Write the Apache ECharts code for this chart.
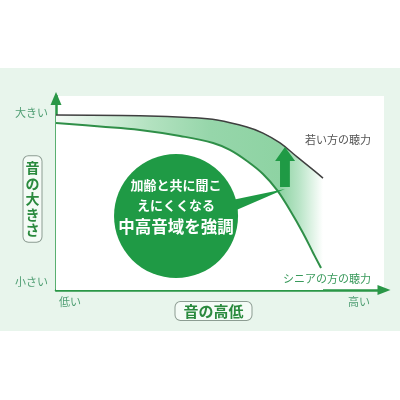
<!DOCTYPE html>
<html><head><meta charset="utf-8">
<script src="https://cdn.jsdelivr.net/npm/echarts@6/dist/echarts.min.js"></script>
<style>html,body{margin:0;padding:0;background:#fff}#c{width:400px;height:400px}</style>
</head><body><div id="c"></div>
<script>
// ---- data ----
const xYoung = [0, 25.6, 41.8, 49.1, 58.2, 63.1, 68.3, 73.5, 78.4, 81.4];
const young  = [90.2, 89.8, 88.8, 87.6, 84.0, 80.9, 75.8, 68.6, 61.9, 57.7];
const xSenior = [0, 13.4, 25.6, 37.8, 47.9, 53.0, 58.2, 63.1, 67.4, 71.3, 75.3, 78.4, 80.8];
const senior  = [86.1, 84.3, 82.5, 79.4, 75.8, 72.2, 66.5, 59.8, 51.5, 41.2, 29.4, 19.1, 11.3];
const seriesNames = ['若い方の聴力', 'シニアの方の聴力'];
const yTickValues = [4.1, 91.2];
const yTickLabels = ['小さい', '大きい'];
const xTickValues = [4.3, 92.4];
const xTickLabels = ['低い', '高い'];
const yAxisTitle = '音の大きさ';
const xAxisTitle = '音の高低';
const calloutLines = ['加齢と共に聞こ', 'えにくくなる', '中高音域を強調'];
const calloutCenter = [36.6, 38.1];
// annotation shapes (data coordinates)
const pointerX = [51.5, 69.8, 51.5];
const pointerY = [45.6, 52.1, 38.7];
const arrowX = [69.8, 72.9, 71.3, 71.3, 68.3, 68.3, 66.8];
const arrowY = [73.7, 66.5, 66.5, 53.1, 53.1, 66.5, 66.5];

const FONT = '"Noto Sans CJK JP", "Noto Sans CJK SC", sans-serif';
const GREEN = '#1f9a45';
const AXIS = '#2a9747';
const LABEL = '#4f9e73';

const chart = echarts.init(document.getElementById('c'), null, {renderer: 'canvas'});
const option = {
  animation: false,
  backgroundColor: '#ffffff',
  textStyle: {fontFamily: FONT},
  grid: {left: 56, right: 16, top: 96, bottom: 110, show: true, backgroundColor: '#ffffff', borderWidth: 0},
  xAxis: {
    type: 'value', min: 0, max: 100,
    splitLine: {show: false}, axisTick: {show: false},
    axisLine: {lineStyle: {color: AXIS, width: 2.5}, symbol: ['none', 'triangle'], symbolSize: [10, 13], symbolOffset: [0, 0]},
    axisLabel: {customValues: xTickValues, margin: 6, color: LABEL, fontSize: 11, fontFamily: FONT,
      formatter: v => xTickLabels[xTickValues.indexOf(v)] || ''}
  },
  yAxis: {
    type: 'value', min: 0, max: 100,
    splitLine: {show: false}, axisTick: {show: false},
    axisLine: {lineStyle: {color: AXIS, width: 2.5}, symbol: ['none', 'triangle'], symbolSize: [11, 13], symbolOffset: [0, -2.5]},
    axisLabel: {customValues: yTickValues, margin: 8, color: LABEL, fontSize: 11, fontFamily: FONT,
      formatter: v => yTickLabels[yTickValues.indexOf(v)] || ''}
  },
  graphic: [
    {type: 'rect', z: -100, shape: {x: 0, y: 68, width: 400, height: 263}, style: {fill: '#e8f5ec'}},
    {type: 'text', z: 100, x: 305, y: 140, style: {text: seriesNames[0], fill: '#555555', font: '11px ' + FONT, align: 'left', verticalAlign: 'middle'}},
    {type: 'text', z: 100, x: 283, y: 279, style: {text: seriesNames[1], fill: '#3a9a5c', font: '11px ' + FONT, align: 'left', verticalAlign: 'middle'}},
    {type: 'text', z: 100, x: 32.5, y: 199, style: {
      text: yAxisTitle.split('').join('\n'), fill: '#2a8a3e', font: 'bold 14px ' + FONT, lineHeight: 15.5,
      align: 'center', verticalAlign: 'middle', backgroundColor: '#f4fbf6', borderColor: '#8c9c92', borderWidth: 1,
      borderRadius: 5, padding: [4, 2]}},
    {type: 'text', z: 100, x: 213.5, y: 311, style: {
      text: xAxisTitle, fill: '#2a8a3e', font: 'bold 15px ' + FONT, lineHeight: 16,
      align: 'center', verticalAlign: 'middle', backgroundColor: '#f4fbf6', borderColor: '#8c9c92', borderWidth: 1,
      borderRadius: 5, padding: [1, 8]}}
  ],
  series: [
    {
      type: 'line', name: seriesNames[0], z: 2,
      data: xYoung.map((x, i) => [x, young[i]]),
      smooth: 0.4, symbol: 'none',
      lineStyle: {color: '#3f3f3f', width: 1.5},
      areaStyle: {origin: 'start', opacity: 1, color: new echarts.graphic.LinearGradient(0, 0, 1, 0, [
        {offset: 0, color: '#f6fbf7'},
        {offset: 0.13, color: '#dcf1e2'},
        {offset: 0.35, color: '#b3e2c0'},
        {offset: 0.58, color: '#96d6aa'},
        {offset: 0.84, color: '#8ed3a3'},
        {offset: 0.91, color: '#b8e4c6'},
        {offset: 1, color: '#ffffff'}
      ])}
    },
    {
      type: 'line', name: seriesNames[1], z: 3,
      data: xSenior.map((x, i) => [x, senior[i]]),
      smooth: 0.4, symbol: 'none',
      lineStyle: {color: '#2f8f48', width: 2},
      areaStyle: {origin: 'start', opacity: 1, color: '#ffffff'}
    },
    {
      type: 'custom', z: 4, data: [[0, 0]],
      renderItem: (params, api) => {
        const pts = (xs, ys) => xs.map((x, i) => api.coord([x, ys[i]]));
        return {type: 'group', children: [
          {type: 'polygon', shape: {points: pts(pointerX, pointerY)}, style: {fill: GREEN}},
          {type: 'polygon', shape: {points: pts(arrowX, arrowY)}, style: {fill: GREEN}}
        ]};
      }
    },
    {
      type: 'scatter', z: 5, data: [calloutCenter], symbolSize: 124,
      itemStyle: {color: GREEN, opacity: 1},
      label: {
        show: true, position: 'inside', offset: [0, -9],
        formatter: '{a|' + calloutLines[0] + '}\n{a|' + calloutLines[1] + '}\n{b|' + calloutLines[2] + '}',
        rich: {
          a: {color: '#ffffff', fontSize: 13, fontWeight: 'bold', lineHeight: 20, fontFamily: FONT},
          b: {color: '#ffffff', fontSize: 16.5, fontWeight: 'bold', lineHeight: 25, fontFamily: FONT}
        }
      },
      emphasis: {disabled: true}
    }
  ]
};
chart.setOption(option);
</script>
</body></html>
